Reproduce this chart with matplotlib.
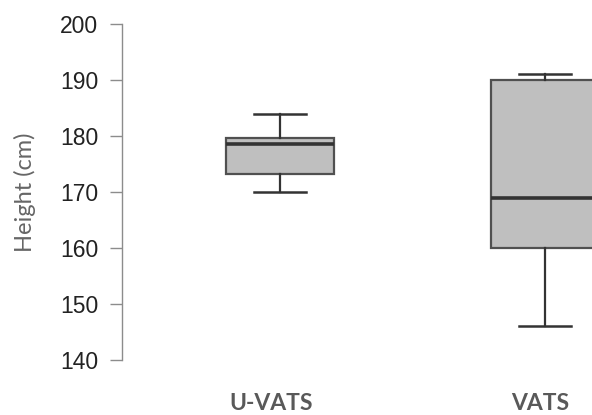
import matplotlib.pyplot as plt

# summary values per group (cm)
groups = ['U-VATS', 'VATS']
whislo = [170, 146]
q1 = [173.3, 160]
med = [178.5, 169]
q3 = [179.7, 190]
whishi = [184, 191]

stats = []
for i, g in enumerate(groups):
    stats.append({'label': g, 'whislo': whislo[i], 'q1': q1[i], 'med': med[i],
                  'q3': q3[i], 'whishi': whishi[i], 'fliers': []})

fig = plt.figure(figsize=(5.92, 4.15), dpi=100)
# axes box in pixels: left 122, right 592, y from 24 to 360 (top-down)
ax = fig.add_axes([122 / 592, (415 - 360) / 415, (592 - 122) / 592, 336 / 415])

bp = ax.bxp(stats, positions=[1, 2], widths=0.404, capwidths=0.196,
            patch_artist=True, showfliers=False,
            boxprops=dict(facecolor='#bfbfbf', edgecolor='#505050', linewidth=1.6),
            medianprops=dict(color='#333333', linewidth=2.6),
            whiskerprops=dict(color='#333333', linewidth=1.6),
            capprops=dict(color='#333333', linewidth=1.8))
for artist in bp['boxes'] + bp['medians'] + bp['whiskers'] + bp['caps']:
    artist.set_clip_on(False)

ax.set_xlim(1 - 158 / 265, 2 + 47 / 265)
ax.set_ylim(140, 200)
ax.set_yticks(range(140, 201, 10))

for s in ['top', 'right', 'bottom']:
    ax.spines[s].set_visible(False)
ax.spines['left'].set_color('#8c8c8c')
ax.spines['left'].set_linewidth(1.0)
ax.tick_params(axis='y', length=9, width=1.0, color='#8c8c8c', pad=8,
               labelsize=16.5, labelcolor='#222222')
for lbl in ax.get_yticklabels():
    lbl.set_fontfamily('Liberation Sans')

ax.tick_params(axis='x', length=0, pad=24)
ax.set_xticks([0.965, 1.98])
ax.set_xticklabels(groups, fontfamily='Lato', fontweight='bold', fontsize=16.5,
                   color='#595959')

ax.set_ylabel('Height (cm)', fontfamily='Lato', fontsize=17, color='#666666')
ax.yaxis.set_label_coords(-(122 - 36) / 470, 0.5)

fig.savefig('out.png', dpi=100)
